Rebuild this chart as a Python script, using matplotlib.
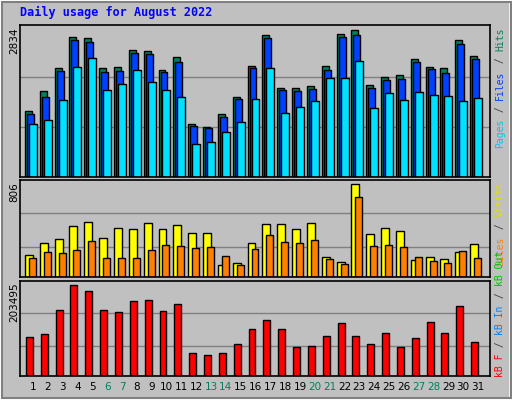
import matplotlib
matplotlib.use("Agg")
import matplotlib.pyplot as plt
from matplotlib.patches import Rectangle

days = list(range(1, 32))
weekend = [6, 7, 13, 14, 20, 21, 27, 28]
hits = [1272,1658,2102,2699,2680,2102,2121,2449,2429,2063,2314,1022,964,1215,1542,2140,2738,1716,1716,1754,2140,2757,2834,1774,1928,1967,2275,2121,2102,2641,2333]
files = [1215,1542,2044,2641,2603,2024,2044,2391,2371,2024,2217,983,945,1157,1504,2102,2680,1677,1658,1697,2063,2699,2738,1716,1870,1889,2217,2082,2005,2564,2275]
pages = [1022,1099,1485,2121,2294,1677,1793,2063,1832,1677,1542,636,675,868,1060,1504,2102,1234,1350,1465,1909,1909,2236,1330,1620,1485,1639,1581,1562,1465,1523]
visits = [193,298,333,438,473,342,429,420,464,420,447,385,385,105,123,298,456,456,420,464,175,131,806,377,429,403,149,175,158,219,289]
sites = [166,219,210,237,315,166,166,166,237,280,272,254,263,184,105,245,368,307,298,324,158,114,692,272,280,263,175,140,123,228,166]
kbytes = [85840,92500,148000,203495,190180,148000,143560,167980,170200,145780,161320,50320,45880,50320,70300,105820,125800,105820,63640,65860,88060,119140,88060,70300,94720,63640,83620,121360,94720,156880,74740]

BG = "#c0c0c0"
W, H = 512, 400
fig = plt.figure(figsize=(W/100, H/100), dpi=100, facecolor=BG)
px = 1/14.9  # one pixel in day units

def ax_at(x0, y0, x1, y1):
    a = fig.add_axes([x0/W, 1-y1/H, (x1-x0)/W, (y1-y0)/H])
    a.set_facecolor(BG)
    a.set_xlim(1-13*px, 31+12*px)
    for s in a.spines.values():
        s.set_color("black"); s.set_linewidth(1.2)
    a.tick_params(length=0)
    a.set_yticks([])
    return a

def grid(a, top, fr):
    a.set_ylim(0, top)
    for f in fr:
        a.axhline(f*top, color="#808080", lw=1, zorder=0)

def bars(a, vals, off, w, col):
    a.bar([d+off*px for d in days], vals, width=w*px, align="edge",
          color=col, edgecolor="black", lw=1, zorder=2)

a1 = ax_at(20, 25, 490, 177)
grid(a1, 2930, [0.329, 0.658])
bars(a1, hits, -8, 7, "#00805c")
bars(a1, files, -6, 7, "#0040ff")
bars(a1, pages, -4, 8, "#00e0ff")
a1.set_xticks([])

a2 = ax_at(20, 180, 490, 277)
grid(a2, 841, [0.3125, 0.656])
bars(a2, visits, -8, 8, "#ffff00")
bars(a2, sites, -4, 7, "#ff8000")
a2.set_xticks([])

a3 = ax_at(20, 281, 490, 376)
grid(a3, 211640, [0.316, 0.663])
bars(a3, kbytes, -7, 7, "#ff0000")
a3.set_xticks(days)
a3.set_xticklabels([str(d) for d in days], fontsize=7.5)
for lab, d in zip(a3.get_xticklabels(), days):
    lab.set_color("#00805c" if d in weekend else "black")
a3.tick_params(axis="x", pad=4)

fig.text(20/W, 1-12/H, "Daily usage for August 2022", color="#0000ff",
         family="DejaVu Sans Mono", weight="bold", fontsize=8.5, va="center")

for txt, y in [("2834", 27), ("806", 182), ("203495", 282)]:
    fig.text(14/W, 1-y/H, txt, rotation=90, fontsize=7.5, ha="center", va="top")

FS = 7.0
CW = 0.602*FS*100/72 + 0.2

def side(parts, y, from_top):
    # parts listed bottom-to-top
    total = CW*sum(len(t) for t, _ in parts)
    ybot = y + total if from_top else y
    for t, c in parts:
        fig.text(500/W, 1-ybot/H, t, rotation=90, color=c, family="DejaVu Sans Mono",
                 fontsize=FS, ha="center", va="bottom")
        ybot -= CW*len(t)

G = "#404040"
side([("Pages", "#00c8e0"), (" / ", G), ("Files", "#0040ff"), (" / ", G), ("Hits", "#00805c")], 27, True)
side([("Sites", "#ff8000"), (" / ", G), ("Visits", "#e0e000")], 181, True)
side([("kB F", "#ff0000"), (" / ", G), ("kB In", "#0080ff"), (" / ", G), ("kB Out", "#00c000")], 377, False)

fig.patches.append(Rectangle((0, 0), 1, 1, transform=fig.transFigure, fill=False, edgecolor="white", lw=4))
fig.patches.append(Rectangle((0.004, 0.005), 0.994, 0.99, transform=fig.transFigure, fill=False, edgecolor="#808080", lw=1.5))

fig.savefig("out.png", dpi=100, facecolor=BG)
